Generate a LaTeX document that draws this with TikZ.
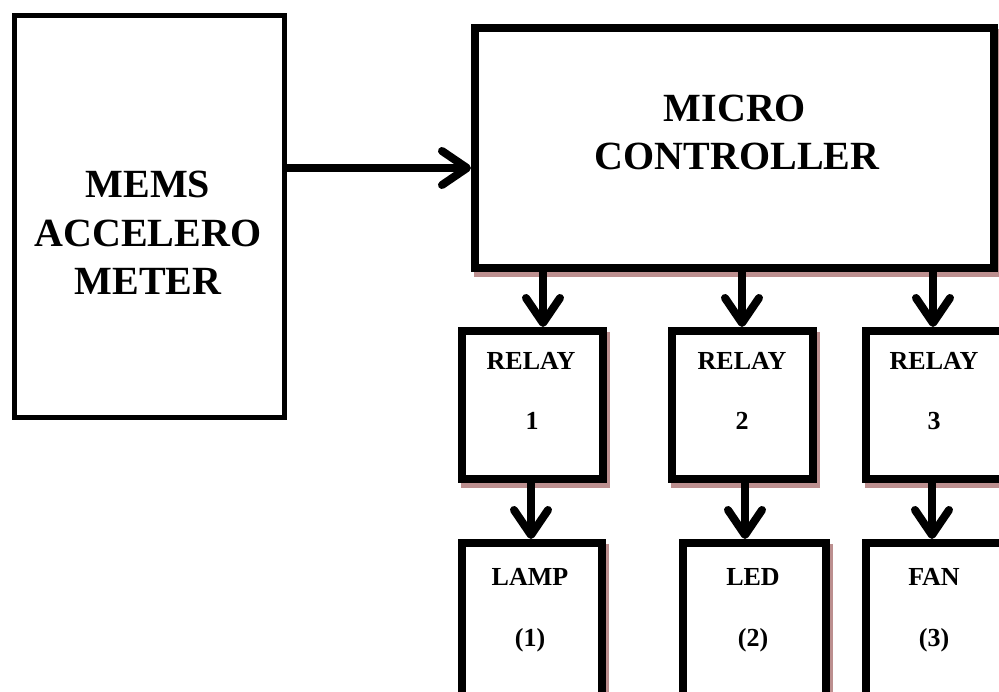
\documentclass[tikz,border=0pt]{standalone}
\usepackage{fontspec}
\setmainfont{Liberation Serif}
\usetikzlibrary{arrows.meta}
\definecolor{shadowc}{RGB}{188,143,143}
\begin{document}
\begin{tikzpicture}[x=1pt,y=-1pt,
  plainbox/.style={draw, fill=white, line width=5pt, inner sep=0pt, outer sep=2.5pt, rectangle},
  shadowbox/.style={draw, fill=white, line width=8pt, inner sep=0pt, outer sep=4pt, rectangle,
    preaction={draw=shadowc, fill=shadowc, transform canvas={shift={(3pt,-5pt)}}}},
  bigtext/.style={font=\bfseries\fontsize{40}{48}\selectfont, inner sep=0pt, anchor=base},
  smalltext/.style={font=\bfseries\fontsize{26}{30}\selectfont, inner sep=0pt, anchor=base},
  arr/.style={line width=8pt, -{Straight Barb[length=25pt,width=34pt,round]}}
]
\useasboundingbox (0,0) rectangle (999,692);
\clip (0,0) rectangle (999,692);

% boxes
\node[plainbox, minimum width=270pt, minimum height=402pt] (mems) at (149.5,216.5) {};
\node[shadowbox, minimum width=519pt, minimum height=240pt] (mc) at (734.5,148) {};
\node[shadowbox, minimum width=141pt, minimum height=148pt] (r1) at (532.5,405) {};
\node[shadowbox, minimum width=141pt, minimum height=148pt] (r2) at (742.5,405) {};
\node[shadowbox, minimum width=141pt, minimum height=148pt] (r3) at (936.5,405) {};
\node[shadowbox, minimum width=140pt, minimum height=197pt] (lamp) at (532,641.5) {};
\node[shadowbox, minimum width=143pt, minimum height=197pt] (led) at (754.5,641.5) {};
\node[shadowbox, minimum width=141pt, minimum height=197pt] (fan) at (936.5,641.5) {};

% texts
\node[bigtext] (t1) at (148,198) {MEMS};
\node[bigtext] (t2) at (148,247) {ACCELERO};
\node[bigtext] (t3) at (148,295) {METER};
\node[bigtext] (t4) at (735,122) {MICRO};
\node[bigtext] (t5) at (737,170) {CONTROLLER};
\node[smalltext] (t6) at (531,370) {RELAY};
\node[smalltext] (t7) at (532,430) {1};
\node[smalltext] (t8) at (742,370) {RELAY};
\node[smalltext] (t9) at (742,430) {2};
\node[smalltext] (t10) at (934,370) {RELAY};
\node[smalltext] (t11) at (934,430) {3};
\node[smalltext] (t12) at (530,585) {LAMP};
\node[smalltext] (t13) at (530,646) {(1)};
\node[smalltext] (t14) at (753,585) {LED};
\node[smalltext] (t15) at (753,646) {(2)};
\node[smalltext] (t16) at (934,585) {FAN};
\node[smalltext] (t17) at (934,646) {(3)};

% connectors
\coordinate (h) at (0,168);
\draw[arr] (mems.east |- h) -- (mc.west |- h);
\coordinate (c1) at (543,0);
\coordinate (c2) at (742,0);
\coordinate (c3) at (933,0);
\coordinate (d1) at (531,0);
\coordinate (d2) at (745,0);
\coordinate (d3) at (932,0);
\draw[arr] (c1 |- mc.south) -- (c1 |- r1.north);
\draw[arr] (c2 |- mc.south) -- (c2 |- r2.north);
\draw[arr] (c3 |- mc.south) -- (c3 |- r3.north);
\draw[arr] (d1 |- r1.south) -- (d1 |- lamp.north);
\draw[arr] (d2 |- r2.south) -- (d2 |- led.north);
\draw[arr] (d3 |- r3.south) -- (d3 |- fan.north);
\end{tikzpicture}
\end{document}
